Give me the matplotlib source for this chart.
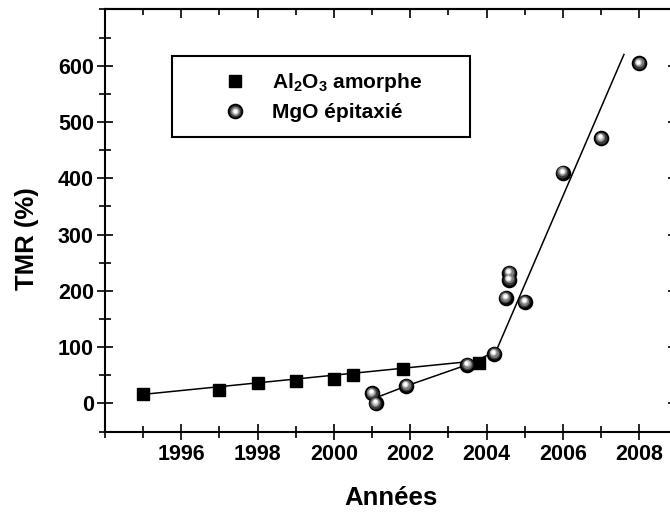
import numpy as np
import matplotlib; matplotlib.use("Agg")
import matplotlib.pyplot as plt
from matplotlib.ticker import MultipleLocator
from matplotlib.transforms import offset_copy
from matplotlib.lines import Line2D
from matplotlib.legend_handler import HandlerTuple

# Al2O3 amorphe (squares)
al_years = [1995.0, 1997.0, 1998.0, 1999.0, 2000.0, 2000.5, 2001.8, 2003.8]
al_tmr = [16, 24, 37, 40, 44, 50, 61, 71]
al_fit_years = [1995.0, 2003.65]
al_fit_tmr = [16, 75]

# MgO epitaxie (spheres)
mgo_years = [2001.0, 2001.1, 2001.9, 2003.5, 2004.2, 2004.5, 2004.6, 2004.6,
             2005.0, 2006.0, 2007.0, 2008.0]
mgo_tmr = [18, 0, 31, 68, 88, 187, 220, 232, 180, 410, 471, 604]
mgo_trend_years = [2001.1, 2001.9, 2003.55, 2004.25, 2007.6]
mgo_trend_tmr = [10, 31, 70, 93, 620]

x_ticks = [1996, 1998, 2000, 2002, 2004, 2006, 2008]
y_ticks = [0, 100, 200, 300, 400, 500, 600]

FONT = ['Liberation Sans', 'DejaVu Sans']
plt.rcParams.update({'font.family': FONT, 'font.weight': 'bold',
                     'mathtext.fontset': 'custom',
                     'mathtext.rm': 'Liberation Sans:bold',
                     'mathtext.bf': 'Liberation Sans:bold',
                     'mathtext.default': 'bf'})

fig = plt.figure(figsize=(6.7, 5.12), dpi=100)
ax = fig.add_axes([0.1567, 0.1572, 0.8543, 0.8244])

ax.plot(al_fit_years, al_fit_tmr, color='black', lw=1.1, zorder=2)
ax.plot(mgo_trend_years, mgo_trend_tmr, color='black', lw=1.1, zorder=2)
ax.plot(al_years, al_tmr, ls='none', marker='s', ms=8.6, color='black', zorder=3)

# shaded spheres: dark disk with lighter layers shifted up-left
sphere = [(10.2, '#000000', 0.0, 0.0), (7.6, '#3a3a3a', -0.3, 0.5),
          (5.6, '#7e7e7e', -0.5, 0.9), (3.6, '#c4c4c4', -0.7, 1.2),
          (2.0, '#ffffff', -0.8, 1.4)]
for i, (ms, col, dx, dy) in enumerate(sphere):
    tr = offset_copy(ax.transData, fig=fig, x=dx, y=dy, units='points')
    ax.plot(mgo_years, mgo_tmr, ls='none', marker='o', ms=ms, color=col,
            mec=col, transform=tr, zorder=4 + i)

ax.set_xlim(1994, 2009)
ax.set_ylim(-50, 700)
ax.set_xticks(x_ticks)
ax.set_yticks(y_ticks)
ax.xaxis.set_minor_locator(MultipleLocator(1))
ax.yaxis.set_minor_locator(MultipleLocator(50))
ax.tick_params(which='major', direction='inout', length=12, width=1.2,
               labelsize=15.5, top=False, right=False)
ax.tick_params(which='minor', direction='inout', length=8, width=1.2,
               top=False, right=False)
ax.tick_params(axis='x', pad=3)
ax.tick_params(axis='y', pad=2)
for s in ax.spines.values():
    s.set_linewidth(1.5)

secx = ax.secondary_xaxis('top')
secx.xaxis.set_major_locator(MultipleLocator(2))
secx.xaxis.set_minor_locator(MultipleLocator(1))
secx.tick_params(which='major', direction='in', length=6.5, width=1.2, labeltop=False)
secx.tick_params(which='minor', direction='in', length=4, width=1.2)
secx.spines['top'].set_linewidth(1.5)
secy = ax.secondary_yaxis('right')
secy.yaxis.set_major_locator(MultipleLocator(100))
secy.yaxis.set_minor_locator(MultipleLocator(50))
secy.tick_params(which='major', direction='in', length=6.5, width=1.2, labelright=False)
secy.tick_params(which='minor', direction='in', length=4, width=1.2)
secy.spines['right'].set_linewidth(1.5)

ax.set_xlabel('Années', fontsize=18.5, fontweight='bold', labelpad=15)
ax.set_ylabel('TMR (%)', fontsize=18.5, fontweight='bold')
ax.yaxis.set_label_coords(-0.116, 0.458)

sq = Line2D([], [], ls='none', marker='s', ms=8.6, color='black')
sph = tuple(Line2D([], [], ls='none', marker='o', ms=ms, color=col, mec=col)
            for ms, col, dx, dy in sphere)
leg = ax.legend([sq, sph], ['Al$_2$O$_3$ amorphe', 'MgO épitaxié'],
                handler_map={tuple: HandlerTuple(ndivide=1, pad=0)},
                loc='upper left', bbox_to_anchor=(0.117, 0.889, 0.521, 0.0),
                mode='expand', borderaxespad=0,
                prop={'family': FONT, 'weight': 'bold', 'size': 15},
                borderpad=0.72, labelspacing=0.42, handlelength=4.6,
                handletextpad=-0.5, fancybox=False, framealpha=1)
leg.get_frame().set_edgecolor('black')
leg.get_frame().set_linewidth(1.5)

fig.savefig('out.png', dpi=100)
